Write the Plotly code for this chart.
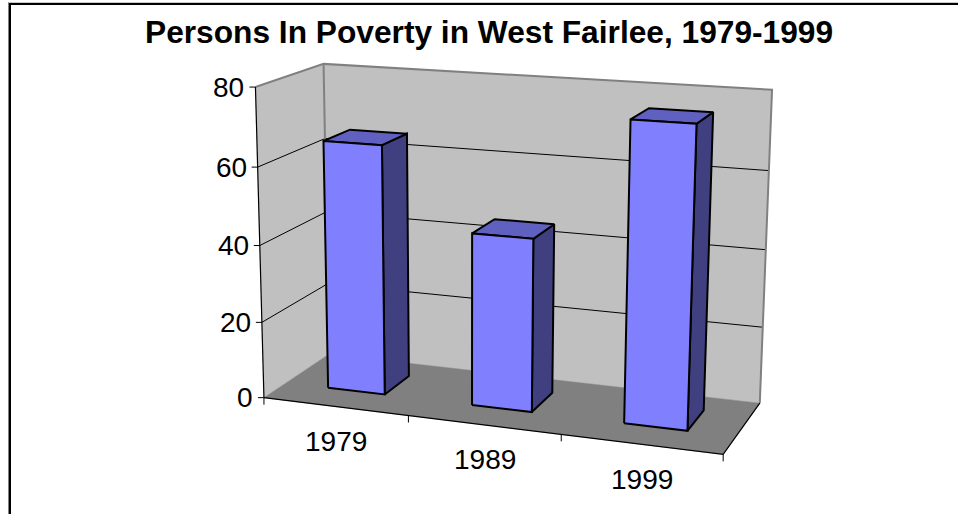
import numpy as np
import plotly.graph_objects as go

years = ["1979", "1989", "1999"]
persons = [65, 44.5, 75.5]
y_ticks = [0, 20, 40, 60, 80]
title = "Persons In Poverty in West Fairlee, 1979-1999"

# box corners (category, value, depth) and where they land in the picture
box = [(0, 0, 0), (3, 0, 0), (3, 0, 1), (0, 0, 1), (0, 80, 0), (0, 80, 1), (3, 80, 1)]
seen = [(265.7, 396), (723.3, 455.7), (760, 401.7), (327, 356), (253.5, 87.5), (325.7, 63.3), (771.7, 90)]

rows, rhs = [], []
for (a, b, c), (u, v) in zip(box, seen):
    rows.append([a, b, c, 1, 0, 0, 0, 0, -u * a, -u * b, -u * c])
    rows.append([0, 0, 0, 0, a, b, c, 1, -v * a, -v * b, -v * c])
    rhs += [u, v]
p = np.linalg.lstsq(np.array(rows, float), np.array(rhs, float), rcond=None)[0]
P = np.append(p, 1).reshape(3, 4)


def proj(a, b, c):
    u, v, w = P @ np.array([a, b, c, 1.0])
    return u / w, v / w


fig = go.Figure()


def poly(points, fill=None, color="black", width=1):
    xy = [proj(*q) for q in points]
    if fill:
        xy.append(xy[0])
    fig.add_trace(go.Scatter(x=[q[0] for q in xy], y=[q[1] for q in xy], mode="lines",
                             fill="toself" if fill else None, fillcolor=fill,
                             line=dict(color=color, width=width), hoverinfo="skip"))


# walls and floor
poly([(0, 0, 0), (0, 80, 0), (0, 80, 1), (0, 0, 1)], "#C0C0C0", "#C0C0C0", 0.5)
poly([(0, 0, 1), (0, 80, 1), (3, 80, 1), (3, 0, 1)], "#C0C0C0", "#C0C0C0", 0.5)
poly([(0, 0, 0), (3, 0, 0), (3, 0, 1), (0, 0, 1)], "#808080", "#808080", 0.5)

# gridlines
for t in y_ticks[1:-1]:
    poly([(0, t, 0), (0, t, 1), (3, t, 1)], color="black", width=1)

# wall edges
poly([(0, 80, 0), (0, 80, 1), (3, 80, 1), (3, 0, 1)], color="#808080", width=2)
poly([(0, 0, 1), (0, 80, 1)], color="#808080", width=2)

# axes
poly([(0, 0, 0), (0, 80, 0)], color="black", width=1.2)
poly([(0, 0, 0), (3, 0, 0), (3, 0, 1)], color="black", width=1.2)

# bars
x0, x1 = 0.3, 0.7
z0, z1 = 0.33, 0.74
for i, val in enumerate(persons):
    a0, a1 = i + x0, i + x1
    poly([(a1, 0, z0), (a1, 0, z1), (a1, val, z1), (a1, val, z0)], "#404080", "black", 2)
    poly([(a0, val, z0), (a1, val, z0), (a1, val, z1), (a0, val, z1)], "#6060C0", "black", 2)
    poly([(a0, 0, z0), (a1, 0, z0), (a1, val, z0), (a0, val, z0)], "#8080FF", "black", 2)

# ticks and labels
for t in y_ticks:
    u, v = proj(0, t, 0)
    fig.add_trace(go.Scatter(x=[u - 6, u], y=[v, v], mode="lines", line=dict(color="black", width=1), hoverinfo="skip"))
    fig.add_annotation(x=u - 9, y=v, text=str(t), showarrow=False, xanchor="right", yanchor="middle",
                       font=dict(size=28))
for i in range(4):
    u, v = proj(i, 0, 0)
    fig.add_trace(go.Scatter(x=[u, u], y=[v, v + 7], mode="lines", line=dict(color="black", width=1), hoverinfo="skip"))
for i, lab in enumerate(years):
    u, v = proj(i + 0.5, 0, 0)
    fig.add_annotation(x=u + 1, y=v + 35, text=lab, showarrow=False, font=dict(size=28))

fig.add_annotation(x=489, y=32, text="<b>" + title + "</b>", showarrow=False, font=dict(size=31.7))

# chart frame, open on the right and bottom
fig.add_shape(type="line", x0=8, y0=2.5, x1=958, y1=2.5, line=dict(color="#C8C8C8", width=1))
fig.add_shape(type="line", x0=8.5, y0=2.5, x1=8.5, y1=514, line=dict(color="#808080", width=1))
fig.add_shape(type="line", x0=9, y0=4, x1=958, y1=4, line=dict(color="black", width=2))
fig.add_shape(type="line", x0=10, y0=3, x1=10, y1=514, line=dict(color="black", width=2))

fig.update_layout(width=958, height=514, margin=dict(l=0, r=0, t=0, b=0), showlegend=False,
                  plot_bgcolor="white", paper_bgcolor="white",
                  font=dict(family="Liberation Sans", color="black"),
                  xaxis=dict(range=[0, 958], visible=False),
                  yaxis=dict(range=[514, 0], visible=False))

# drop the page's default 8px margin so the figure sits at the window corner
fig.write_html("out.html", config=dict(displayModeBar=False),
               post_script="document.body.style.margin='0';document.body.style.overflow='hidden';")
